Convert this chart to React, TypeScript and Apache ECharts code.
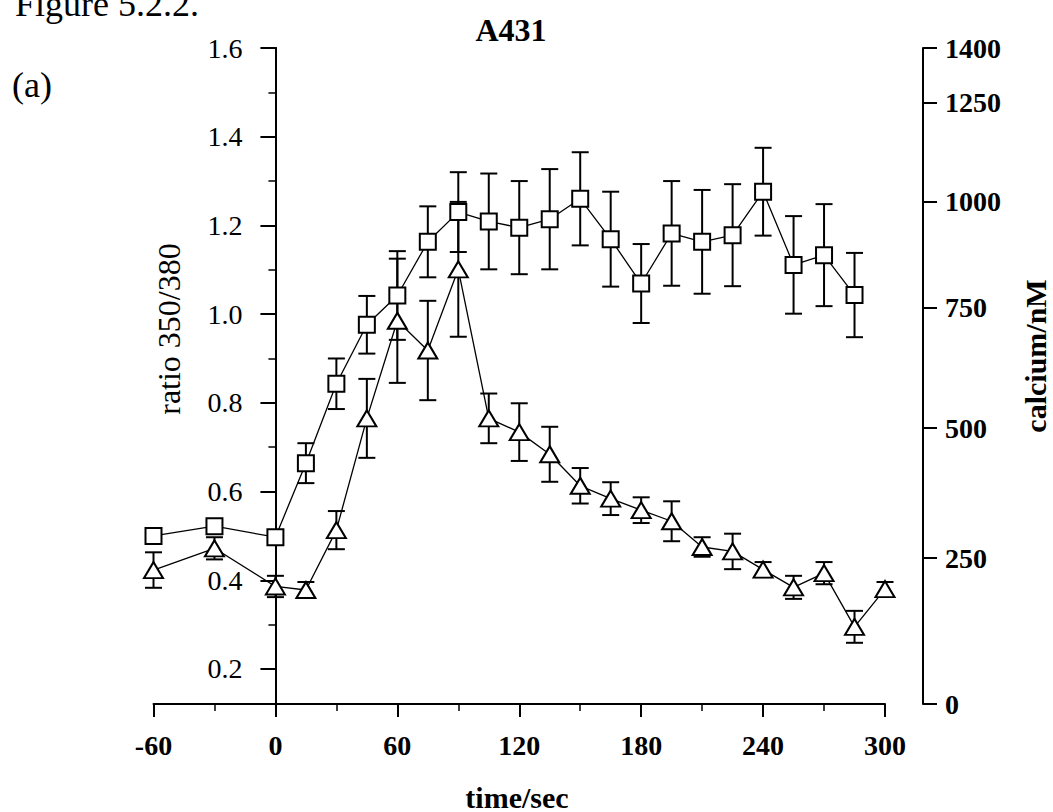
import React, { useEffect, useRef } from "react";
import * as echarts from "echarts";

// ---- data (ratio 350/380) ----
const squareTime = [-60, -30, 0, 15, 30, 45, 60, 75, 90, 105, 120, 135, 150, 165, 180, 195, 210, 225, 240, 255, 270, 285];
const squareRatio = [0.5, 0.522, 0.497, 0.664, 0.843, 0.976, 1.042, 1.163, 1.23, 1.209, 1.195, 1.214, 1.26, 1.169, 1.069, 1.182, 1.163, 1.178, 1.276, 1.111, 1.133, 1.043];
const squareErr = [0.008, 0.012, 0.008, 0.045, 0.057, 0.065, 0.1, 0.08, 0.09, 0.108, 0.105, 0.113, 0.105, 0.107, 0.089, 0.118, 0.117, 0.115, 0.099, 0.11, 0.115, 0.095];

const triTime = [-60, -30, 0, 15, 30, 45, 60, 75, 90, 105, 120, 135, 150, 165, 180, 195, 210, 225, 240, 255, 270, 285, 300];
const triRatio = [0.423, 0.472, 0.386, 0.378, 0.513, 0.765, 0.985, 0.918, 1.101, 0.765, 0.734, 0.684, 0.613, 0.584, 0.558, 0.533, 0.475, 0.465, 0.424, 0.384, 0.416, 0.295, 0.38];
const triErr = [0.04, 0.025, 0.024, 0.018, 0.043, 0.089, 0.14, 0.112, 0.152, 0.056, 0.065, 0.062, 0.04, 0.037, 0.029, 0.045, 0.022, 0.04, 0.017, 0.026, 0.025, 0.036, 0.016];

// ---- axes / ticks ----
const ratioMin = 0.121;
const ratioMax = 1.6;
const ratioMajorTicks = [0.2, 0.4, 0.6, 0.8, 1.0, 1.2, 1.4, 1.6];
const ratioMinorTicks = [0.3, 0.5, 0.7, 0.9, 1.1, 1.3, 1.5];
const calciumTickLabels = [0, 250, 500, 750, 1000, 1250, 1400];
const calciumTickRatio = [0.121, 0.45, 0.743, 1.014, 1.253, 1.476, 1.6];
const timeMin = -60;
const timeMax = 300;
const timeStep = 60;

const FONT = "'Liberation Serif', 'Times New Roman', serif";

const W = 1053;
const GRID_LEFT = 153.5;
const GRID_RIGHT = 168;

export default function App() {
  const ref = useRef<HTMLDivElement>(null);

  useEffect(() => {
    if (!ref.current) return;
    const chart = echarts.init(ref.current, null, { renderer: "svg" });

    // ECharts keeps labels of an onZero axis at the grid edge; shift them back to the axis line
    const plotW = W - GRID_LEFT - GRID_RIGHT;
    const zeroShift = ((0 - timeMin) / (timeMax - timeMin)) * plotW;

    const errData = (t: number[], v: number[], e: number[]) =>
      t.map((x, i) => [x, v[i] - e[i], v[i] + e[i]]);

    const errorBarSeries = (data: number[][]) => ({
      type: "custom",
      xAxisIndex: 0,
      yAxisIndex: 0,
      z: 1,
      silent: true,
      encode: { x: 0, y: [1, 2] },
      data,
      renderItem: (params: any, api: any) => {
        const x = api.value(0);
        const lo = api.coord([x, api.value(1)]);
        const hi = api.coord([x, api.value(2)]);
        const half = 8.5;
        const st = { stroke: "#000", lineWidth: 2 };
        return {
          type: "group",
          children: [
            { type: "line", shape: { x1: hi[0], y1: hi[1], x2: lo[0], y2: lo[1] }, style: st },
            { type: "line", shape: { x1: hi[0] - half, y1: hi[1], x2: hi[0] + half, y2: hi[1] }, style: st },
            { type: "line", shape: { x1: lo[0] - half, y1: lo[1], x2: lo[0] + half, y2: lo[1] }, style: st },
          ],
        };
      },
    });

    const axisLineStyle = { color: "#000", width: 2 };

    const option: any = {
      animation: false,
      backgroundColor: "#fff",
      grid: { left: GRID_LEFT, right: GRID_RIGHT, top: 48, bottom: 108, containLabel: false },
      xAxis: {
        type: "value",
        min: timeMin,
        max: timeMax,
        interval: timeStep,
        axisLine: { onZero: false, lineStyle: axisLineStyle },
        axisTick: { length: 13, lineStyle: { color: "#000", width: 2 } },
        minorTick: { show: true, splitNumber: 2, length: 7, lineStyle: { color: "#000", width: 1.5 } },
        splitLine: { show: false },
        minorSplitLine: { show: false },
        axisLabel: { color: "#000", fontFamily: FONT, fontSize: 28, fontWeight: "bold", margin: 27 },
      },
      yAxis: [
        {
          type: "value",
          min: ratioMin,
          max: ratioMax,
          position: "left",
          axisLine: { show: true, onZero: true, onZeroAxisIndex: 0, lineStyle: axisLineStyle },
          axisTick: { show: true, customValues: ratioMajorTicks, length: 15, lineStyle: { color: "#000", width: 2 } },
          axisLabel: {
            customValues: ratioMajorTicks,
            formatter: (v: number) => v.toFixed(1),
            color: "#000",
            fontFamily: FONT,
            fontSize: 28,
            margin: 33 - zeroShift,
          },
          splitLine: { show: false },
        },
        {
          type: "value",
          min: ratioMin,
          max: ratioMax,
          position: "left",
          axisLine: { show: true, onZero: true, onZeroAxisIndex: 0, lineStyle: axisLineStyle },
          axisTick: { show: true, customValues: ratioMinorTicks, length: 7, lineStyle: { color: "#000", width: 1.5 } },
          axisLabel: { show: false },
          splitLine: { show: false },
        },
        {
          type: "value",
          min: ratioMin,
          max: ratioMax,
          position: "right",
          offset: 38,
          axisLine: { show: true, onZero: false, lineStyle: axisLineStyle },
          axisTick: { show: true, customValues: calciumTickRatio, length: 14, lineStyle: { color: "#000", width: 2 } },
          axisLabel: {
            customValues: calciumTickRatio,
            showMinLabel: true,
            showMaxLabel: true,
            formatter: (v: number) => {
              let best = 0;
              calciumTickRatio.forEach((r, i) => {
                if (Math.abs(r - v) < Math.abs(calciumTickRatio[best] - v)) best = i;
              });
              return String(calciumTickLabels[best]);
            },
            color: "#000",
            fontFamily: FONT,
            fontSize: 28,
            fontWeight: "bold",
            margin: 22,
          },
          splitLine: { show: false },
        },
      ],
      graphic: [
        { type: "text", x: 15, y: 4, style: { text: "Figure 5.2.2.", fontFamily: FONT, fontSize: 36, fill: "#000", align: "left", verticalAlign: "middle" } },
        { type: "text", x: 32, y: 85, style: { text: "(a)", fontFamily: FONT, fontSize: 36, fill: "#000", align: "center", verticalAlign: "middle" } },
        { type: "text", x: 511, y: 30, style: { text: "A431", fontFamily: FONT, fontSize: 32, fontWeight: "bold", fill: "#000", align: "center", verticalAlign: "middle" } },
        { type: "text", x: 169, y: 329, rotation: Math.PI / 2, style: { text: "ratio 350/380", fontFamily: FONT, fontSize: 32, fill: "#000", align: "center", verticalAlign: "middle" } },
        { type: "text", x: 1035, y: 356, rotation: Math.PI / 2, style: { text: "calcium/nM", fontFamily: FONT, fontSize: 30, fontWeight: "bold", fill: "#000", align: "center", verticalAlign: "middle" } },
        { type: "text", x: 517, y: 797, style: { text: "time/sec", fontFamily: FONT, fontSize: 30, fontWeight: "bold", fill: "#000", align: "center", verticalAlign: "middle" } },
      ],
      series: [
        errorBarSeries(errData(squareTime, squareRatio, squareErr)),
        errorBarSeries(errData(triTime, triRatio, triErr)),
        {
          type: "line",
          name: "squares",
          z: 2,
          data: squareTime.map((t, i) => [t, squareRatio[i]]),
          symbol: "rect",
          symbolSize: 16,
          showAllSymbol: true,
          lineStyle: { color: "#000", width: 1.3 },
          itemStyle: { color: "#fff", borderColor: "#000", borderWidth: 2 },
        },
        {
          type: "line",
          name: "triangles",
          z: 3,
          data: triTime.map((t, i) => [t, triRatio[i]]),
          symbol: "triangle",
          symbolSize: [19, 16],
          showAllSymbol: true,
          lineStyle: { color: "#000", width: 1.3 },
          itemStyle: { color: "#fff", borderColor: "#000", borderWidth: 2 },
        },
      ],
    };

    chart.setOption(option);
    return () => chart.dispose();
  }, []);

  return (
    <div
      ref={ref}
      style={{ position: "fixed", left: 0, top: 0, width: W, height: 812, background: "#fff" }}
    />
  );
}
